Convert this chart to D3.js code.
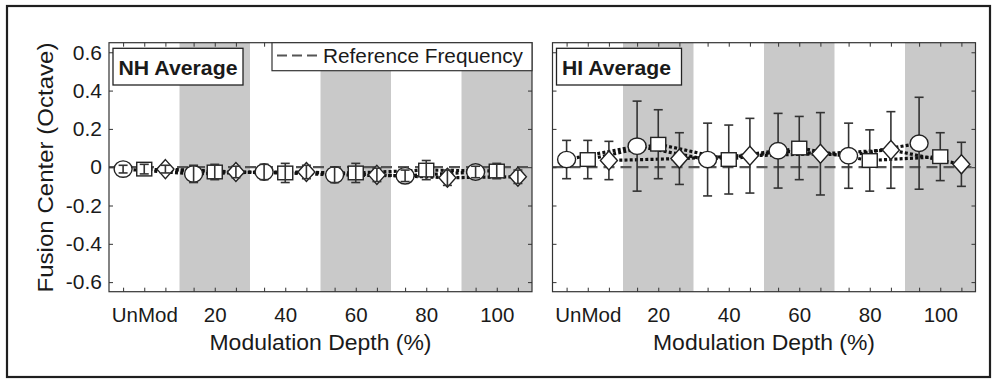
<!DOCTYPE html>
<html>
<head>
<meta charset="utf-8">
<script src="https://cdn.jsdelivr.net/npm/d3@7"></script>
<style>
  html, body { margin: 0; padding: 0; background: #fff; }
  svg { display: block; }
  text { font-family: "Liberation Sans", Arial, Helvetica, sans-serif; fill: #1a1a1a; }
</style>
</head>
<body>
<svg id="chart" width="998" height="384"></svg>
<script>
// ---------------- data ----------------
const groupLabels = ["UnMod", "20", "40", "60", "80", "100"];
const groupValues = [0, 20, 40, 60, 80, 100];
const shadedBands = [[10, 30], [50, 70], [90, 110]];
const yTickValues = [-0.6, -0.4, -0.2, 0, 0.2, 0.4, 0.6];
const yTickLabels = ["-0.6", "-0.4", "-0.2", "0", "0.2", "0.4", "0.6"];

// NH average (circle / square / diamond series)
const nhCircle      = [-0.010, -0.035, -0.025, -0.040, -0.045, -0.025];
const nhCircleErr   = [ 0.020,  0.045,  0.040,  0.040,  0.030,  0.030];
const nhSquare      = [-0.010, -0.025, -0.030, -0.030, -0.015, -0.020];
const nhSquareErr   = [ 0.025,  0.040,  0.050,  0.050,  0.050,  0.040];
const nhDiamond     = [-0.010, -0.025, -0.025, -0.040, -0.055, -0.050];
const nhDiamondErr  = [ 0.020,  0.030,  0.035,  0.035,  0.040,  0.035];

// HI average
const hiCircle      = [0.040, 0.110, 0.040, 0.086, 0.060, 0.125];
const hiCircleErr   = [0.100, 0.235, 0.190, 0.195, 0.170, 0.240];
const hiSquare      = [0.040, 0.120, 0.040, 0.100, 0.035, 0.055];
const hiSquareErr   = [0.100, 0.180, 0.180, 0.165, 0.160, 0.125];
const hiDiamond     = [0.035, 0.045, 0.060, 0.070, 0.090, 0.015];
const hiDiamondErr  = [0.100, 0.135, 0.195, 0.215, 0.200, 0.115];

const referenceValue = 0;
const legendLabel = "Reference Frequency";
const xLabel = "Modulation Depth (%)";
const yLabel = "Fusion Center (Octave)";

// --------------- layout ---------------
const svg = d3.select("#chart");
const dark = "#1f1f1f";
const seriesOffset = [-6, 0, 6];   // circle, square, diamond within a group
const shapes = ["circle", "square", "diamond"];

// outer frame
svg.append("rect").attr("x", 7).attr("y", 6).attr("width", 983).attr("height", 371)
  .attr("fill", "none").attr("stroke", dark).attr("stroke-width", 2.2);

const yTop = 42.7, yBot = 291.7;
const panels = [
  { title: "NH Average", left: 109, right: 532, showY: true, legend: true, errOnTop: true,
    series: [[nhCircle, nhCircleErr], [nhSquare, nhSquareErr], [nhDiamond, nhDiamondErr]] },
  { title: "HI Average", left: 552.5, right: 975.5, showY: false, legend: false, errOnTop: false,
    series: [[hiCircle, hiCircleErr], [hiSquare, hiSquareErr], [hiDiamond, hiDiamondErr]] }
];

const y = d3.scaleLinear().domain([-0.65, 0.65]).range([yBot, yTop]);

panels.forEach(p => {
  const x = d3.scaleLinear().domain([-10, 110]).range([p.left, p.right]);
  const g = svg.append("g");
  const w = p.right - p.left, h = yBot - yTop;

  // shaded bands
  g.selectAll("rect.band").data(shadedBands).join("rect")
    .attr("x", d => x(d[0])).attr("y", yTop)
    .attr("width", d => x(d[1]) - x(d[0])).attr("height", h)
    .attr("fill", "#c9c9c9");

  // reference dashed line
  g.append("line").attr("x1", p.left).attr("x2", p.right)
    .attr("y1", y(referenceValue)).attr("y2", y(referenceValue))
    .attr("stroke", "#555").attr("stroke-width", 2.2).attr("stroke-dasharray", "11 6");

  // connecting dotted lines
  const line = d3.line().x(d => x(d.x)).y(d => y(d.v));
  const seriesPts = p.series.map((s, si) => s[0].map((v, i) => ({
    x: groupValues[i] + seriesOffset[si], v: v, e: s[1][i], shape: shapes[si]
  })));
  seriesPts.forEach(pts => {
    g.append("path").attr("d", line(pts)).attr("fill", "none")
      .attr("stroke", "#111").attr("stroke-width", 3.2).attr("stroke-dasharray", "3 2.2");
  });

  const all = seriesPts.flat();

  function drawErr(layer) {
    const eg = layer.append("g").attr("stroke", "#333").attr("stroke-width", 1.6);
    all.forEach(d => {
      const cx = x(d.x);
      eg.append("line").attr("x1", cx).attr("x2", cx).attr("y1", y(d.v - d.e)).attr("y2", y(d.v + d.e));
      eg.append("line").attr("x1", cx - 4.5).attr("x2", cx + 4.5).attr("y1", y(d.v - d.e)).attr("y2", y(d.v - d.e));
      eg.append("line").attr("x1", cx - 4.5).attr("x2", cx + 4.5).attr("y1", y(d.v + d.e)).attr("y2", y(d.v + d.e));
    });
  }
  function drawMarkers(layer) {
    const mg = layer.append("g").attr("fill", "#fff").attr("stroke", "#222").attr("stroke-width", 1.4);
    all.forEach(d => {
      const cx = x(d.x), cy = y(d.v);
      if (d.shape === "circle") {
        mg.append("ellipse").attr("cx", cx).attr("cy", cy).attr("rx", 9).attr("ry", 8.2);
      } else if (d.shape === "square") {
        mg.append("rect").attr("x", cx - 7.5).attr("y", cy - 6.8).attr("width", 15).attr("height", 13.6);
      } else {
        mg.append("path").attr("d", `M${cx},${cy - 9.5}L${cx + 8.5},${cy}L${cx},${cy + 9.5}L${cx - 8.5},${cy}Z`);
      }
    });
  }
  if (p.errOnTop) { drawMarkers(g); drawErr(g); } else { drawErr(g); drawMarkers(g); }

  // axes box
  g.append("rect").attr("x", p.left).attr("y", yTop).attr("width", w).attr("height", h)
    .attr("fill", "none").attr("stroke", "#333").attr("stroke-width", 1.2);

  const tickPos = groupValues.flatMap(v => seriesOffset.map(o => v + o));
  const styleAxis = sel => { sel.select(".domain").remove(); sel.selectAll("line").attr("stroke", "#333"); };

  svg.append("g").attr("transform", `translate(0,${yBot})`)
    .call(d3.axisBottom(x).tickValues(tickPos).tickFormat("").tickSize(-4)).call(styleAxis);
  svg.append("g").attr("transform", `translate(0,${yTop})`)
    .call(d3.axisTop(x).tickValues(tickPos).tickFormat("").tickSize(-4)).call(styleAxis);
  const lab = svg.append("g").attr("transform", `translate(0,${yBot})`)
    .call(d3.axisBottom(x).tickValues(groupValues).tickFormat((d, i) => groupLabels[i]).tickSize(0).tickPadding(16));
  lab.select(".domain").remove();
  lab.selectAll("text").attr("font-size", 20.5).attr("fill", "#1a1a1a")
    .style("font-family", '"Liberation Sans", Arial, sans-serif');

  const yl = svg.append("g").attr("transform", `translate(${p.left},0)`)
    .call(d3.axisLeft(y).tickValues(yTickValues).tickSize(-4).tickPadding(7)
      .tickFormat(p.showY ? ((d, i) => yTickLabels[i]) : ""));
  yl.call(styleAxis);
  yl.selectAll("text").attr("font-size", 21).attr("fill", "#1a1a1a")
    .style("font-family", '"Liberation Sans", Arial, sans-serif');
  svg.append("g").attr("transform", `translate(${p.right},0)`)
    .call(d3.axisRight(y).tickValues(yTickValues).tickSize(-4).tickFormat("")).call(styleAxis);

  // x label
  svg.append("text").attr("x", (p.left + p.right) / 2).attr("y", 350)
    .attr("text-anchor", "middle").attr("font-size", 21.5)
    .attr("textLength", 222).attr("lengthAdjust", "spacingAndGlyphs").text(xLabel);

  // title box
  const tb = svg.append("g");
  tb.append("rect").attr("x", p.left + 4).attr("y", 48.3).attr("width", p.title === "NH Average" ? 130 : 125).attr("height", 36.7)
    .attr("fill", "#fff").attr("stroke", "#222").attr("stroke-width", 1.3);
  tb.append("text").attr("x", p.left + 9.5).attr("y", 75)
    .attr("font-size", 19.5).attr("font-weight", "bold")
    .attr("textLength", p.title === "NH Average" ? 119 : 109).attr("lengthAdjust", "spacingAndGlyphs")
    .text(p.title);

  if (p.legend) {
    const lg = svg.append("g");
    lg.append("rect").attr("x", 272).attr("y", yTop).attr("width", p.right - 272).attr("height", 28)
      .attr("fill", "#fff").attr("stroke", "#333").attr("stroke-width", 1.2);
    lg.append("line").attr("x1", 277).attr("x2", 317).attr("y1", 55.5).attr("y2", 55.5)
      .attr("stroke", "#555").attr("stroke-width", 2.2).attr("stroke-dasharray", "10 5");
    lg.append("text").attr("x", 323).attr("y", 63.3).attr("font-size", 20.5)
      .attr("textLength", 200).attr("lengthAdjust", "spacingAndGlyphs").text(legendLabel);
  }
});

// y label
svg.append("text").attr("transform", "translate(53,167.5) rotate(-90)")
  .attr("text-anchor", "middle").attr("font-size", 21.5)
  .attr("textLength", 250).attr("lengthAdjust", "spacingAndGlyphs").text(yLabel);
</script>
</body>
</html>
